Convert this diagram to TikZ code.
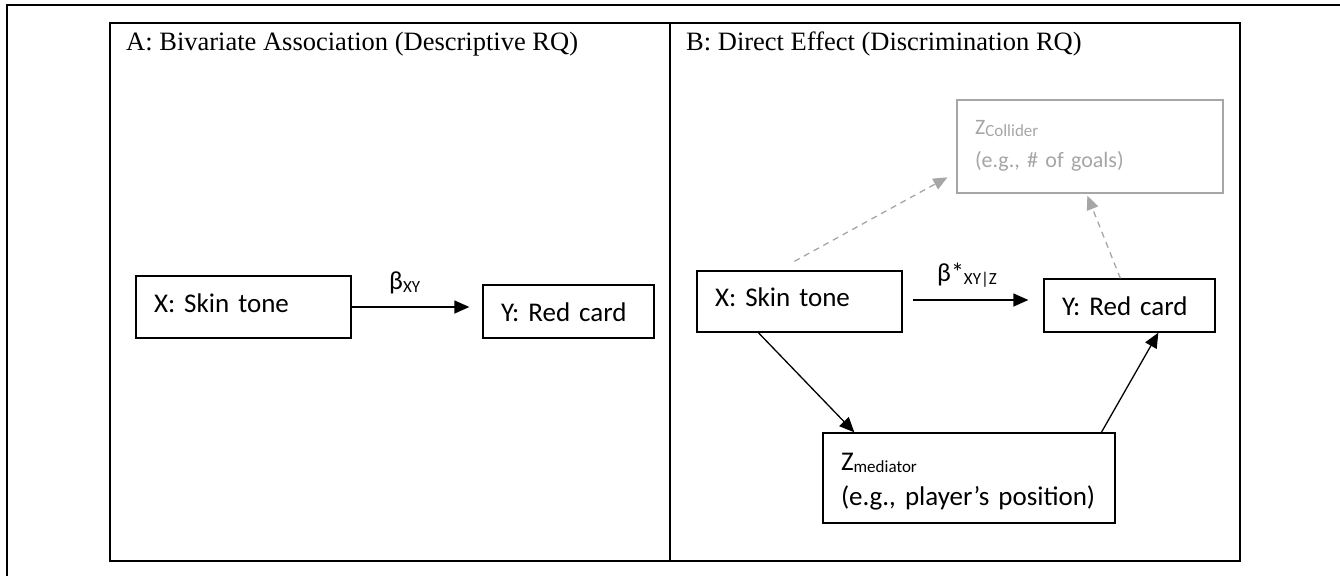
\documentclass[tikz,border=0pt]{standalone}
\usepackage{fontspec}
\setmainfont{Liberation Serif}
\newfontfamily\calib{Carlito}
\usetikzlibrary{arrows.meta}
\definecolor{lgray}{HTML}{A6A6A6}
\begin{document}
\begin{tikzpicture}[x=1pt,y=-1pt,
  frame/.style={draw=black, line width=1.5pt},
  panel/.style={draw=black, line width=1.5pt, inner sep=0pt},
  title/.style={font=\fontsize{26.5}{30}\selectfont, inner sep=0pt, anchor=base west},
  box/.style={draw=black, line width=1.3pt, inner xsep=18pt, inner ysep=0pt,
              font=\calib\fontsize{27}{35}\selectfont, align=left},
  gbox/.style={box, draw=lgray, text=lgray, font=\calib\fontsize{22}{33}\selectfont},
  lab/.style={font=\calib\fontsize{26}{30}\selectfont, inner sep=0pt, anchor=base west},
  arr/.style={-{Triangle[length=15pt,width=13pt]}, line width=1.3pt},
  darr/.style={-{Triangle[length=14pt,width=12pt]}, line width=1.3pt, draw=lgray,
               dash pattern=on 6pt off 5pt}
]
\useasboundingbox (0,0) rectangle (1340,576);
\fill[white] (0,0) rectangle (1340,576);
\draw[frame] (1340,5) -- (7,5) -- (7,576);

% panels
\node[panel, minimum width=560pt, minimum height=538pt] (pa) at (390,292) {};
\node[panel, minimum width=570pt, minimum height=538pt] (pb) at (955,292) {};
\node[title] (ta) at (126,50) {A: Bivariate Association (Descriptive RQ)};
\node[title] (tb) at (686,50) {B: Direct Effect (Discrimination RQ)};

% panel A
\node[box, minimum width=215pt, minimum height=62pt, text width=179pt,
      text height=18pt, text depth=8pt] (ax) at (243.5,307) {X: Skin tone};
\node[box, minimum width=171pt, minimum height=53pt, text width=135pt,
      text height=19pt, text depth=0pt] (ay) at (568.5,311.5) {Y: Red card};
\draw[arr, shorten >=13pt] (ax.east) -- (ax.east -| ay.west);
\node[lab] (lxy) at (389,289) {β\raisebox{-3pt}{\fontsize{17}{17}\selectfont XY}};

% panel B
\node[box, minimum width=205pt, minimum height=61pt, text width=169pt,
      text height=18pt, text depth=8pt] (bx) at (799.5,301.5) {X: Skin tone};
\node[box, minimum width=171pt, minimum height=53pt, text width=135pt,
      text height=19pt, text depth=0pt] (by) at (1129.5,305.5) {Y: Red card};
\node[box, minimum width=292pt, minimum height=90pt, text width=256pt,
      text height=18pt, text depth=34pt] (bm) at (969,478)
      {Z\raisebox{-2pt}{\fontsize{17}{17}\selectfont mediator}\\(e.g., player’s position)};
\node[gbox, minimum width=266pt, minimum height=93pt, text width=230pt,
      text height=15pt, text depth=40pt] (bc) at (1090,146.5)
      {Z\raisebox{-2pt}{\fontsize{17}{17}\selectfont Collider}\\(e.g., \# of goals)};

\draw[arr, shorten <=10pt, shorten >=15pt] ([yshift=1.5pt]bx.east) -- ([yshift=1.5pt]bx.east -| by.west);
\node[lab] (lxyz) at (937,281) {β*\raisebox{-3pt}{\fontsize{17}{17}\selectfont XY|Z}};
\draw[arr] ([xshift=62pt]bx.south west) -- ([xshift=32pt]bm.north west);
\draw[arr] ([xshift=279pt]bm.north west) -- ([xshift=115pt]by.south west);
\draw[darr] ([shift={(98,-9)}]bx.north west) -- ([shift={(-9,78)}]bc.north west);
\draw[darr] ([xshift=77pt]by.north west) -- ([shift={(131,2)}]bc.south west);
\end{tikzpicture}
\end{document}
